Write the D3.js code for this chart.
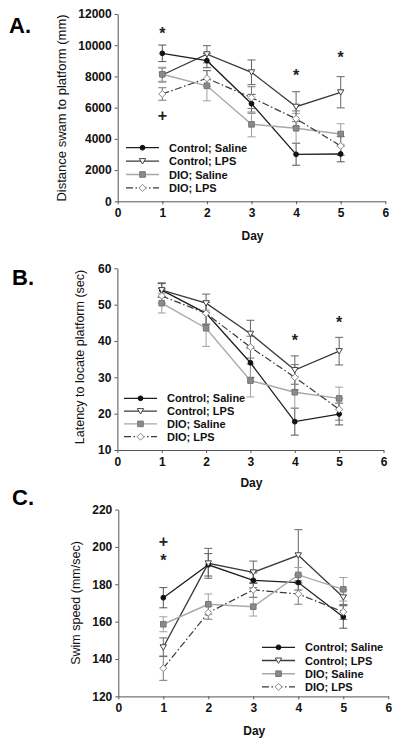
<!DOCTYPE html>
<html><head><meta charset="utf-8">
<script src="https://cdn.jsdelivr.net/npm/d3@7/dist/d3.min.js"></script>
<style>
html,body{margin:0;padding:0;background:#fff;}
svg{display:block;font-family:"Liberation Sans",Arial,sans-serif;}
</style></head>
<body>
<svg id="chart" width="400" height="749"></svg>
<script>
// ---------- DATA ----------
const days = [1, 2, 3, 4, 5];
const seriesNames = ["Control; Saline", "Control; LPS", "DIO; Saline", "DIO; LPS"];

// Panel A: distance swam to platform (mm)
const distCS = [9480, 9010, 6250, 3010, 3030];
const distCSErr = [530, 450, 600, 700, 500];
const distCLPS = [8090, 9420, 8265, 6060, 6985];
const distCLPSErr = [450, 550, 790, 960, 1000];
const distDS = [8140, 7400, 4930, 4680, 4310];
const distDSErr = [450, 960, 800, 950, 660];
const distDL = [6875, 7880, 6640, 5290, 3545];
const distDLErr = [400, 500, 700, 500, 600];
const distTicks = [0, 2000, 4000, 6000, 8000, 10000, 12000];

// Panel B: latency to locate platform (sec)
const latCS = [54.0, 47.6, 34.0, 17.8, 19.9];
const latCSErr = [1.8, 3.0, 4.0, 3.7, 3.0];
const latCLPS = [54.0, 50.4, 42.0, 32.0, 37.2];
const latCLPSErr = [2.0, 2.5, 3.7, 3.9, 3.8];
const latDS = [50.4, 43.5, 29.1, 25.9, 24.2];
const latDSErr = [2.7, 5.0, 4.5, 4.4, 3.1];
const latDL = [52.4, 47.6, 38.3, 30.0, 21.2];
const latDLErr = [2.0, 3.0, 3.0, 3.5, 3.0];
const latTicks = [10, 20, 30, 40, 50, 60];

// Panel C: swim speed (mm/sec)
const spdCS = [172.8, 190.4, 182.1, 180.9, 162.5];
const spdCSErr = [5.4, 6.0, 4.0, 4.0, 6.0];
const spdCLPS = [146.3, 191.2, 186.4, 195.5, 173.0];
const spdCLPSErr = [5.0, 8.0, 6.0, 13.7, 4.0];
const spdDS = [158.6, 169.3, 168.0, 185.0, 177.3];
const spdDSErr = [4.0, 5.5, 5.0, 4.0, 6.3];
const spdDL = [135.1, 164.8, 177.0, 174.8, 165.2];
const spdDLErr = [6.5, 3.5, 4.0, 5.5, 4.0];
const spdTicks = [120, 140, 160, 180, 200, 220];

const xTicks = [0, 1, 2, 3, 4, 5, 6];

// significance marks: [day, value-position, symbol]
const marksA = [[1, 11000, "*"], [4, 8300, "*"], [5, 9450, "*"], [1, 5500, "+"]];
const marksB = [[4, 41.3, "*"], [5, 46.2, "*"]];
const marksC = [[1, 203, "+"], [1, 195, "*"]];

// ---------- STYLES ----------
const styles = [
  {line: "#1e1e1e", width: 1.3, dash: null, marker: "circle", fill: "#111", stroke: "#111", err: "#555"},
  {line: "#3a3a3a", width: 1.3, dash: null, marker: "triDown", fill: "#fff", stroke: "#444", err: "#666"},
  {line: "#a8a8a8", width: 1.4, dash: null, marker: "square", fill: "#8a8a8a", stroke: "#777", err: "#a0a0a0"},
  {line: "#3a3a3a", width: 1.2, dash: "7,2.5,1.5,2.5", marker: "diamond", fill: "#fff", stroke: "#888", err: "#777"}
];

const svg = d3.select("#chart");

function markerPath(type) {
  if (type === "circle") return d3.symbol().type(d3.symbolCircle).size(18)();
  if (type === "square") return "M-2.8,-2.8H2.8V2.8H-2.8Z";
  if (type === "triDown") return "M-3.2,-2.5L3.2,-2.5L0,2.9Z";
  if (type === "diamond") return "M0,-3.5L3.5,0L0,3.5L-3.5,0Z";
}

function drawPanel(cfg) {
  const g = svg.append("g");
  const x = d3.scaleLinear().domain([0, 6]).range(cfg.xr);
  const y = d3.scaleLinear().domain(cfg.yd).range(cfg.yr);

  // axes
  const ya = g.append("g").attr("transform", `translate(${cfg.xr[0]},0)`)
    .call(d3.axisLeft(y).tickValues(cfg.yTicks).tickSize(3).tickSizeOuter(0).tickPadding(3).tickFormat(d3.format("d")));
  const xa = g.append("g").attr("transform", `translate(0,${cfg.yr[0]})`)
    .call(d3.axisBottom(x).tickValues(xTicks).tickSize(3).tickSizeOuter(0).tickPadding(4).tickFormat(d3.format("d")));
  [ya, xa].forEach(a => {
    a.select(".domain").attr("stroke", "#555").attr("stroke-width", 1);
    a.selectAll(".tick line").attr("stroke", "#555");
    a.selectAll(".tick text").attr("fill", "#111").style("font-size", "12px").style("font-weight", "bold")
      .style("font-family", "'Liberation Sans', Arial, sans-serif");
  });

  // axis titles
  g.append("text").attr("x", (cfg.xr[0] + cfg.xr[1]) / 2 + 1).attr("y", cfg.dayY)
    .attr("text-anchor", "middle").style("font-size", "12px").style("font-weight", "bold").attr("fill", "#111").text("Day");
  g.append("text").attr("transform", `translate(${cfg.ylX},${cfg.ylY}) rotate(-90)`)
    .attr("text-anchor", "middle").style("font-size", cfg.ylSize + "px").attr("fill", "#111").text(cfg.yLabel);
  // panel letter
  g.append("text").attr("x", cfg.letterX).attr("y", cfg.letterY).style("font-size", "22px").style("font-weight", "bold")
    .attr("fill", "#000").text(cfg.letter);

  // error bars
  cfg.series.forEach((s, i) => {
    const st = styles[i];
    const eg = g.append("g");
    days.forEach((d, j) => {
      const cx = x(d), y1 = y(s.v[j] - s.e[j]), y2 = y(s.v[j] + s.e[j]);
      eg.append("line").attr("x1", cx).attr("x2", cx).attr("y1", y1).attr("y2", y2).attr("stroke", st.err).attr("stroke-width", 1);
      [y1, y2].forEach(yy => eg.append("line").attr("x1", cx - 4).attr("x2", cx + 4).attr("y1", yy).attr("y2", yy)
        .attr("stroke", st.err).attr("stroke-width", 1));
    });
  });
  // lines
  const line = d3.line().x((d, j) => x(days[j])).y(d => y(d));
  cfg.series.forEach((s, i) => {
    const st = styles[i];
    g.append("path").datum(s.v).attr("d", line).attr("fill", "none").attr("stroke", st.line)
      .attr("stroke-width", st.width).attr("stroke-dasharray", st.dash);
  });
  // markers
  cfg.series.forEach((s, i) => {
    const st = styles[i];
    g.selectAll(null).data(s.v).enter().append("path").attr("d", markerPath(st.marker))
      .attr("transform", (d, j) => `translate(${x(days[j])},${y(d)})`)
      .attr("fill", st.fill).attr("stroke", st.stroke).attr("stroke-width", 1);
  });
  // significance marks
  cfg.marks.forEach(m => {
    const cx = x(m[0]), cy = y(m[1]);
    g.append("text").attr("x", cx).attr("y", cy + (m[2] === "*" ? 9.5 : 5.5)).attr("text-anchor", "middle")
      .style("font-size", "16px").style("font-weight", "bold").attr("fill", "#222").text(m[2]);
  });

  // legend
  seriesNames.forEach((name, i) => {
    const st = styles[i];
    const ly = cfg.legY + i * cfg.legStep;
    g.append("line").attr("x1", cfg.legX).attr("x2", cfg.legX + 33).attr("y1", ly).attr("y2", ly)
      .attr("stroke", st.line).attr("stroke-width", st.width).attr("stroke-dasharray", st.dash);
    g.append("path").attr("d", markerPath(st.marker)).attr("transform", `translate(${cfg.legX + 16.5},${ly})`)
      .attr("fill", st.fill).attr("stroke", st.stroke).attr("stroke-width", 1);
    g.append("text").attr("x", cfg.legX + 43).attr("y", ly + 4).style("font-size", "11px").style("font-weight", "bold")
      .attr("fill", "#111").text(name);
  });
}

drawPanel({
  letter: "A.", letterX: 9, letterY: 32.5,
  xr: [117.7, 385.3], yd: [0, 12000], yr: [201.3, 14], yTicks: distTicks,
  yLabel: "Distance swam to platform (mm)", ylX: 66, ylY: 108, ylSize: 13, dayY: 240,
  series: [{v: distCS, e: distCSErr}, {v: distCLPS, e: distCLPSErr}, {v: distDS, e: distDSErr}, {v: distDL, e: distDLErr}],
  marks: marksA, legX: 126, legY: 147.7, legStep: 13.4
});
drawPanel({
  letter: "B.", letterX: 12, letterY: 284.5,
  xr: [117.4, 383.5], yd: [10, 60], yr: [450, 268.3], yTicks: latTicks,
  yLabel: "Latency to locate platform (sec)", ylX: 84, ylY: 357, ylSize: 12.5, dayY: 487,
  series: [{v: latCS, e: latCSErr}, {v: latCLPS, e: latCLPSErr}, {v: latDS, e: latDSErr}, {v: latDL, e: latDLErr}],
  marks: marksB, legX: 124, legY: 398.3, legStep: 12.8
});
drawPanel({
  letter: "C.", letterX: 12, letterY: 505,
  xr: [118.3, 388.3], yd: [120, 220], yr: [696.4, 509.5], yTicks: spdTicks,
  yLabel: "Swim speed (mm/sec)", ylX: 80, ylY: 603, ylSize: 12.5, dayY: 735,
  series: [{v: spdCS, e: spdCSErr}, {v: spdCLPS, e: spdCLPSErr}, {v: spdDS, e: spdDSErr}, {v: spdDL, e: spdDLErr}],
  marks: marksC, legX: 262, legY: 647.3, legStep: 13.2
});
</script>
</body></html>
